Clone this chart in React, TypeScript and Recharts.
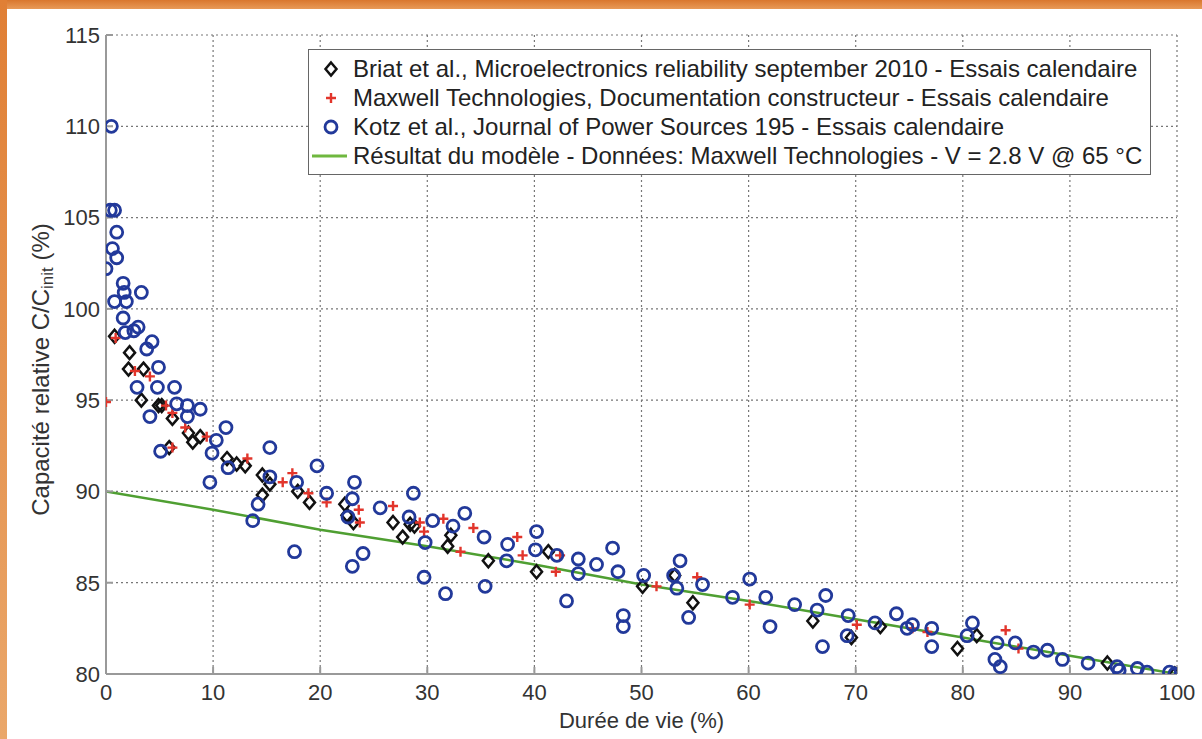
import { ComposedChart, Scatter, Line, XAxis, YAxis, CartesianGrid, Legend } from 'recharts'

const xTicks = [0, 10, 20, 30, 40, 50, 60, 70, 80, 90, 100]
const yTicks = [80, 85, 90, 95, 100, 105, 110, 115]

// Briat et al. (diamonds)
const briat: [number, number][] = [
  [0.8, 98.5], [2.2, 97.6], [2.1, 96.7], [3.5, 96.7], [3.3, 95.0], [4.9, 94.7], [5.2, 94.7],
  [6.2, 94.0], [5.9, 92.4], [7.7, 93.2], [8.1, 92.7], [8.8, 93.0], [11.3, 91.8], [12.2, 91.5],
  [13.0, 91.4], [14.6, 90.9], [15.3, 90.4], [14.6, 89.8], [17.9, 90.0], [19.0, 89.4], [22.3, 89.3],
  [22.5, 88.7], [23.1, 88.3], [26.8, 88.3], [27.7, 87.5], [28.4, 88.2], [28.8, 88.1], [32.2, 87.6],
  [31.9, 87.0], [35.7, 86.2], [40.2, 85.6], [41.3, 86.7], [50.1, 84.8], [53.1, 85.4], [54.8, 83.9],
  [66.0, 82.9], [69.6, 82.0], [72.3, 82.6], [79.5, 81.4], [81.3, 82.1], [93.5, 80.6], [99.8, 80.0],
]

// Maxwell Technologies (plus)
const maxwell: [number, number][] = [
  [0.0, 94.9], [0.9, 98.4], [2.7, 96.6], [4.1, 96.3], [5.6, 94.7], [6.2, 94.3], [7.4, 93.5],
  [9.4, 93.0], [6.2, 92.4], [13.2, 91.8], [16.5, 90.5], [17.4, 91.0], [18.9, 89.9], [20.6, 89.4],
  [23.6, 89.0], [23.7, 88.3], [26.8, 89.2], [29.3, 88.3], [29.7, 87.8], [31.5, 88.5], [33.1, 86.7],
  [34.3, 88.0], [38.4, 87.5], [38.9, 86.5], [42.0, 85.6], [42.4, 86.5], [51.4, 84.8], [55.2, 85.3],
  [60.1, 83.8], [70.1, 82.7], [75.3, 82.5], [76.7, 82.3], [84.0, 82.4], [85.2, 81.4],
]

// Kotz et al. (circles)
const kotz: [number, number][] = [
  [0.5, 110.0], [0.4, 105.4], [0.8, 105.4], [1.0, 104.2], [0.6, 103.3], [1.0, 102.8], [0.0, 102.2],
  [1.6, 101.4], [1.7, 100.9], [3.3, 100.9], [0.8, 100.4], [1.9, 100.4], [1.6, 99.5], [3.0, 99.0],
  [2.6, 98.8], [1.8, 98.7], [4.3, 98.2], [3.8, 97.8], [4.9, 96.8], [2.9, 95.7], [4.8, 95.7],
  [6.4, 95.7], [6.6, 94.8], [7.6, 94.7], [7.6, 94.1], [8.8, 94.5], [4.1, 94.1], [10.3, 92.8],
  [11.2, 93.5], [5.1, 92.2], [9.9, 92.1], [15.3, 92.4], [9.7, 90.5], [11.4, 91.3], [15.3, 90.8],
  [14.2, 89.3], [13.7, 88.4], [17.6, 86.7], [17.8, 90.5], [19.7, 91.4], [20.6, 89.9], [23.2, 90.5],
  [23.0, 89.6], [22.6, 88.6], [24.0, 86.6], [23.0, 85.9], [25.6, 89.1], [28.7, 89.9], [28.3, 88.6],
  [30.5, 88.4], [29.8, 87.2], [29.7, 85.3], [32.4, 88.1], [33.5, 88.8], [31.7, 84.4], [35.3, 87.5],
  [37.5, 87.1], [37.4, 86.2], [35.4, 84.8], [40.2, 87.8], [40.1, 86.8], [42.1, 86.5], [43.0, 84.0],
  [44.1, 86.3], [44.1, 85.5], [45.8, 86.0], [47.3, 86.9], [47.8, 85.6], [48.3, 83.2], [48.3, 82.6],
  [50.2, 85.4], [53.6, 86.2], [53.0, 85.4], [53.3, 84.7], [54.4, 83.1], [55.7, 84.9], [58.5, 84.2],
  [60.1, 85.2], [61.6, 84.2], [62.0, 82.6], [64.3, 83.8], [66.4, 83.5], [67.2, 84.3], [66.9, 81.5],
  [69.3, 83.2], [69.2, 82.1], [71.8, 82.8], [73.8, 83.3], [74.8, 82.5], [75.3, 82.7], [77.1, 82.5],
  [77.1, 81.5], [80.9, 82.8], [80.4, 82.1], [83.2, 81.7], [83.0, 80.8], [83.5, 80.4], [84.9, 81.7],
  [86.6, 81.2], [87.9, 81.3], [89.3, 80.8], [91.7, 80.6], [94.4, 80.4], [94.6, 80.2], [96.3, 80.3],
  [97.2, 80.1], [99.3, 80.1], [99.8, 80.0],
]

// model result
const modelX = [0, 10, 20, 30, 40, 50, 60, 70, 80, 90, 100]
const modelY = [90.0, 89.0, 87.9, 87.0, 86.0, 84.9, 84.0, 83.0, 82.0, 81.0, 80.0]

const legendLabels = [
  'Briat et al., Microelectronics reliability september 2010 - Essais calendaire',
  'Maxwell Technologies, Documentation constructeur - Essais calendaire',
  'Kotz et al., Journal of Power Sources 195 - Essais calendaire',
  'Résultat du modèle - Données: Maxwell Technologies - V = 2.8 V @ 65 °C',
]

const FONT = '"Liberation Sans", Arial, Helvetica, sans-serif'
const BLUE = '#22399a'
const RED = '#e2352b'
const GREEN = '#4f9f32'

const toPoints = (pts: [number, number][]) => pts.map(([x, y]) => ({ x, y }))
const modelData = modelX.map((x, i) => ({ x, y: modelY[i] }))

const DiamondMark = ({ cx, cy }: any) => (
  <path d={`M${cx},${cy - 6.5}L${cx + 5.5},${cy}L${cx},${cy + 6.5}L${cx - 5.5},${cy}Z`} fill="none" stroke="#111" strokeWidth={2.5} />
)
const PlusMark = ({ cx, cy }: any) => (
  <path d={`M${cx - 5},${cy}H${cx + 5}M${cx},${cy - 5}V${cy + 5}`} stroke={RED} strokeWidth={2.4} />
)
const CircleMark = ({ cx, cy }: any) => (
  <circle cx={cx} cy={cy} r={6} fill="none" stroke={BLUE} strokeWidth={2.8} />
)

const LegendBox = () => {
  const marks = [
    <DiamondMark cx={22} cy={15} />,
    <PlusMark cx={22} cy={15} />,
    <CircleMark cx={22} cy={15} />,
    <line x1={3} x2={38} y1={15} y2={15} stroke="#6fb83f" strokeWidth={3} />,
  ]
  return (
    <div style={{ border: '1.5px solid #666', background: '#fff', padding: '4px 0', fontFamily: FONT, fontSize: 24, color: '#222' }}>
      {legendLabels.map((label, i) => (
        <div key={label} style={{ display: 'flex', alignItems: 'center', height: 29 }}>
          <svg width={44} height={30}>{marks[i]}</svg>
          <span style={{ whiteSpace: 'nowrap' }}>{label}</span>
        </div>
      ))}
    </div>
  )
}

const YTitle = ({ viewBox }: any) => {
  const cx = 40
  const cy = viewBox.y + viewBox.height / 2 + 15
  return (
    <text x={cx} y={cy} transform={`rotate(-90 ${cx} ${cy})`} textAnchor="middle" dominantBaseline="central"
      fontFamily={FONT} fontSize={24} fill="#333">
      Capacité relative C/C<tspan dy={7} fontSize={17}>init</tspan><tspan dy={-7}> (%)</tspan>
    </text>
  )
}

const XTitle = ({ viewBox }: any) => (
  <text x={viewBox.x + viewBox.width / 2} y={720} textAnchor="middle" dominantBaseline="central"
    fontFamily={FONT} fontSize={22} fill="#333">
    Durée de vie (%)
  </text>
)

export default function App() {
  const tick = { fontSize: 22, fill: '#333', fontFamily: FONT }
  return (
    <div style={{ position: 'absolute', left: 0, top: 0, width: 1202, height: 739, background: '#fff', overflow: 'hidden' }}>
      <div style={{ position: 'absolute', left: 0, top: 0, width: 1202, height: 9, background: 'linear-gradient(#d9772e, #e89a58)' }} />
      <div style={{ position: 'absolute', left: 0, top: 0, width: 7, height: 739, background: 'linear-gradient(#e07f35, #eaa76a)' }} />
      <ComposedChart width={1202} height={739} margin={{ top: 35, right: 25, bottom: 0, left: 0 }}>
        <CartesianGrid stroke="#777" strokeDasharray="2 3" strokeWidth={1.2} horizontalValues={yTicks} verticalValues={xTicks} />
        <XAxis type="number" dataKey="x" domain={[0, 100]} ticks={xTicks} height={65}
          stroke="#999" strokeWidth={2} tickSize={-7} tickMargin={17} tick={tick} tickLine={{ stroke: '#999' }}
          allowDataOverflow interval={0} label={<XTitle />} />
        <XAxis xAxisId="top" orientation="top" type="number" domain={[0, 100]} ticks={xTicks} height={0}
          stroke="#999" strokeWidth={2} tickSize={-7} tick={false} interval={0} />
        <YAxis type="number" dataKey="y" domain={[80, 115]} ticks={yTicks} width={106}
          stroke="#999" strokeWidth={2} tickSize={-7} tickMargin={13} tick={tick} tickLine={{ stroke: '#999' }}
          allowDataOverflow interval={0} label={<YTitle />} />
        <YAxis yAxisId="right" orientation="right" type="number" domain={[80, 115]} ticks={yTicks} width={0}
          stroke="#999" strokeWidth={2} tickSize={-7} tick={false} interval={0} />
        <Scatter name="briat" data={toPoints(briat)} dataKey="y" shape={<DiamondMark />} isAnimationActive={false} />
        <Scatter name="maxwell" data={toPoints(maxwell)} dataKey="y" shape={<PlusMark />} isAnimationActive={false} />
        <Scatter name="kotz" data={toPoints(kotz)} dataKey="y" shape={<CircleMark />} isAnimationActive={false} />
        <Line data={modelData} dataKey="y" stroke={GREEN} strokeWidth={2.5} dot={false} type="linear" isAnimationActive={false} />
        <Legend layout="vertical" align="center" verticalAlign="middle" content={<LegendBox />}
          wrapperStyle={{ left: 308, top: 49, width: 843, height: 'auto' }} />
      </ComposedChart>
    </div>
  )
}
